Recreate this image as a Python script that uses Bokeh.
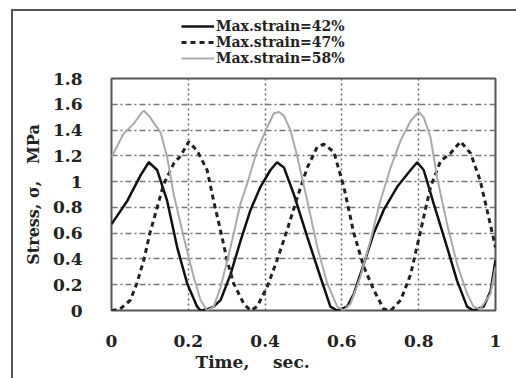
from bokeh.plotting import figure
from bokeh.layouts import column
from bokeh.models import FixedTicker, Legend, LegendItem, Title
from bokeh.embed import file_html
from bokeh.resources import INLINE

# Max.strain = 42% (solid black)
t42 = [0.0, 0.041, 0.076, 0.097, 0.119, 0.145, 0.171, 0.197, 0.223, 0.232, 0.250, 0.266, 0.284,
       0.310, 0.336, 0.362, 0.388, 0.414, 0.431, 0.449, 0.475, 0.510, 0.544, 0.570, 0.588,
       0.614, 0.631, 0.657, 0.683, 0.709, 0.744, 0.779, 0.796, 0.813, 0.839, 0.874, 0.900,
       0.926, 0.943, 0.969, 0.987, 1.0]
s42 = [0.67, 0.85, 1.05, 1.15, 1.09, 0.85, 0.49, 0.21, 0.03, 0.0, 0.01, 0.03, 0.08,
       0.28, 0.54, 0.78, 0.96, 1.09, 1.15, 1.11, 0.90, 0.57, 0.26, 0.03, 0.0,
       0.03, 0.13, 0.36, 0.60, 0.78, 0.96, 1.09, 1.15, 1.09, 0.83, 0.49, 0.23,
       0.03, 0.0, 0.03, 0.15, 0.39]

# Max.strain = 47% (dashed)
t47 = [0.0, 0.022, 0.049, 0.066, 0.084, 0.100, 0.119, 0.136, 0.162, 0.180, 0.201, 0.223, 0.249,
       0.266, 0.284, 0.301, 0.318, 0.345, 0.362, 0.379, 0.405, 0.431, 0.457, 0.484, 0.510,
       0.536, 0.553, 0.579, 0.605, 0.631, 0.657, 0.683, 0.709, 0.727, 0.753, 0.779, 0.805,
       0.831, 0.857, 0.883, 0.909, 0.935, 0.960, 0.978, 1.0]
s47 = [0.0, 0.01, 0.08, 0.21, 0.39, 0.60, 0.80, 0.98, 1.14, 1.20, 1.31, 1.24, 1.09,
       0.85, 0.62, 0.39, 0.21, 0.05, 0.0, 0.03, 0.18, 0.39, 0.62, 0.88, 1.11,
       1.27, 1.29, 1.23, 0.96, 0.60, 0.34, 0.16, 0.01, 0.0, 0.08, 0.28, 0.62,
       0.96, 1.16, 1.22, 1.31, 1.22, 1.01, 0.78, 0.49]

# Max.strain = 58% (light grey)
t58 = [0.0, 0.031, 0.058, 0.080, 0.085, 0.100, 0.128, 0.145, 0.162, 0.188, 0.214, 0.232, 0.249,
       0.266, 0.284, 0.310, 0.336, 0.353, 0.379, 0.405, 0.423, 0.436, 0.449, 0.466, 0.484,
       0.510, 0.536, 0.562, 0.588, 0.605, 0.622, 0.648, 0.674, 0.700, 0.727, 0.753, 0.779,
       0.800, 0.813, 0.831, 0.848, 0.874, 0.900, 0.926, 0.943, 0.960, 0.987, 1.0]
s58 = [1.19, 1.37, 1.45, 1.54, 1.55, 1.50, 1.38, 1.19, 0.90, 0.57, 0.26, 0.08, 0.0,
       0.03, 0.18, 0.49, 0.83, 0.98, 1.24, 1.42, 1.53, 1.54, 1.51, 1.40, 1.19,
       0.85, 0.49, 0.21, 0.03, 0.0, 0.05, 0.26, 0.54, 0.85, 1.11, 1.32, 1.47,
       1.54, 1.50, 1.34, 1.03, 0.67, 0.36, 0.13, 0.03, 0.01, 0.13, 0.34]

labels = ["Max.strain=42%", "Max.strain=47%", "Max.strain=58%"]
x_ticks = [0, 0.2, 0.4, 0.6, 0.8, 1]
x_tick_labels = ["0", "0.2", "0.4", "0.6", "0.8", "1"]
y_ticks = [0, 0.2, 0.4, 0.6, 0.8, 1, 1.2, 1.4, 1.6, 1.8]
y_tick_labels = ["0", "0.2", "0.4", "0.6", "0.8", "1", "1.2", "1.4", "1.6", "1.8"]

FONT = "DejaVu Serif"
TXT = "#222222"
styles = [dict(line_color="#111111", line_width=2.5),
          dict(line_color="#222222", line_width=3, line_dash="5 4"),
          dict(line_color="#aaaaaa", line_width=2)]

# ---- legend strip (top) ----
top = figure(width=503, height=56, output_backend="svg", toolbar_location=None,
             x_range=(0, 1), y_range=(0, 1),
             min_border=0, min_border_left=0, min_border_right=0,
             min_border_top=0, min_border_bottom=0)
top.axis.visible = False
top.grid.visible = False
top.outline_line_color = None
top.background_fill_color = "white"
top.border_fill_color = "white"
nan = float("nan")
leg_renderers = [top.line([nan], [nan], **st) for st in styles]
legend = Legend(items=[LegendItem(label=lab, renderers=[r]) for lab, r in zip(labels, leg_renderers)],
                location=(70, 1), orientation="vertical")
legend.label_text_font = FONT
legend.label_text_font_style = "bold"
legend.label_text_font_size = "14px"
legend.label_text_color = TXT
legend.label_height = 16
legend.glyph_height = 16
legend.glyph_width = 33
legend.label_standoff = 2
legend.spacing = 0
legend.padding = 0
legend.margin = 0
legend.border_line_color = None
legend.background_fill_alpha = 0
top.add_layout(legend, "center")

# ---- main chart ----
p = figure(width=503, height=311, output_backend="svg", toolbar_location=None,
           x_range=(0, 1), y_range=(0, 1.8),
           min_border_left=98, min_border_right=21, min_border_top=11, min_border_bottom=68)
p.background_fill_color = "white"
p.border_fill_color = "white"
p.outline_line_color = "#555555"
p.outline_line_width = 2

p.line(t42, s42, **styles[0])
p.line(t47, s47, **styles[1])
p.line(t58, s58, **styles[2])

for ax in (p.xaxis[0], p.yaxis[0]):
    ax.major_label_text_font = FONT
    ax.major_label_text_font_style = "bold"
    ax.major_label_text_font_size = "17px"
    ax.major_label_text_color = TXT
    ax.axis_line_color = None
    ax.major_tick_line_color = None
    ax.minor_tick_line_color = None
    ax.axis_label_text_font = FONT
    ax.axis_label_text_font_style = "bold"
    ax.axis_label_text_font_size = "16px"
    ax.axis_label_text_color = TXT

p.xaxis.ticker = FixedTicker(ticks=x_ticks)
p.xaxis.major_label_overrides = {k: v for k, v in zip(x_ticks, x_tick_labels)}
p.xaxis.major_label_standoff = 18
p.yaxis.ticker = FixedTicker(ticks=y_ticks)
p.yaxis.major_label_overrides = {k: v for k, v in zip(y_ticks, y_tick_labels)}
p.yaxis.major_label_standoff = 23
p.yaxis.axis_label = "Stress, \u03c3,\u00a0\u00a0\u00a0MPa"
p.yaxis.axis_label_standoff = 7

p.add_layout(Title(text="Time,\u00a0\u00a0\u00a0\u00a0sec.", align="left", offset=84,
                   text_font=FONT, text_font_style="bold", text_font_size="17px",
                   text_color=TXT, standoff=0), "below")

p.xgrid.grid_line_color = "#666666"
p.xgrid.grid_line_dash = "2 3"
p.xgrid.grid_line_width = 1.5
p.ygrid.grid_line_color = "#777777"
p.ygrid.grid_line_dash = "6 3 2 3"
p.ygrid.grid_line_width = 1.5

layout = column(top, p, spacing=0, margin=(9, 0, 0, 11),
                styles={"border-left": "2px solid #555555", "border-top": "2px solid #555555"})

open("out.html", "w").write(file_html(layout, INLINE))
